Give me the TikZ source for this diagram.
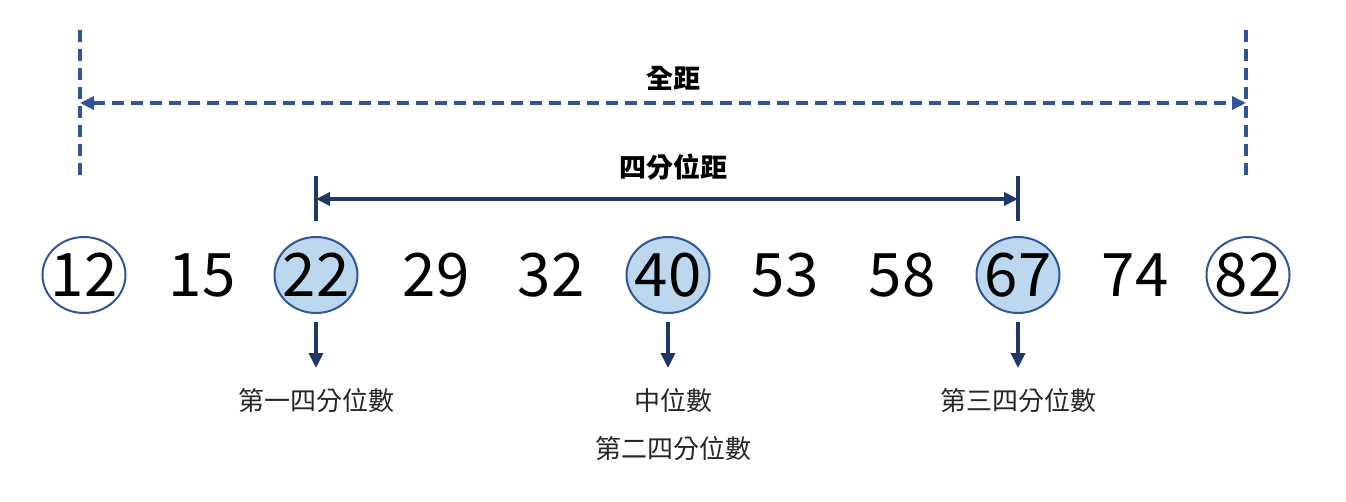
\documentclass[tikz,border=0pt]{standalone}
\usepackage{fontspec}
\setmainfont{Noto Sans CJK TC}
\usetikzlibrary{shapes.geometric,arrows.meta}
\definecolor{dashblue}{HTML}{2F5597}
\definecolor{navy}{HTML}{203864}
\definecolor{lightfill}{HTML}{BDD7EE}
\tikzset{
  num/.style={font=\fontsize{60}{60}\selectfont, inner sep=0pt, text=black},
  ring/.style={num, ellipse, draw=dashblue, line width=2pt, inner xsep=-4.5pt, inner ysep=0pt, minimum width=83pt, minimum height=76pt},
  hl/.style={ring, fill=lightfill},
  dline/.style={draw=dashblue, line width=4pt, dash pattern=on 12pt off 7pt},
  sline/.style={draw=navy, line width=3.5pt},
  lbl/.style={font=\fontsize{26}{26}\selectfont, inner sep=0pt, text=black!85},
  blbl/.style={font=\fontsize{27}{27}\selectfont\bfseries, inner sep=0pt, text=black}
}
\begin{document}
\begin{tikzpicture}[x=1pt,y=-1pt]
\useasboundingbox (0,0) rectangle (1346,501);
% numbers
\node[ring] (n1) at (84,275) {12};
\node[num]  (n2) at (202,275) {15};
\node[hl]   (n3) at (316,275) {22};
\node[num]  (n4) at (436,275) {29};
\node[num]  (n5) at (551,275) {32};
\node[hl]   (n6) at (668,275) {40};
\node[num]  (n7) at (785,275) {53};
\node[num]  (n8) at (902,275) {58};
\node[hl]   (n9) at (1018,275) {67};
\node[num]  (n10) at (1135,275) {74};
\node[ring] (n11) at (1248,275) {82};
% full range
\coordinate (lt) at (80,30);
\coordinate (lb) at (80,176);
\coordinate (rt) at (1246,30);
\coordinate (rb) at (1246,176);
\coordinate (lm) at (80,103);
\coordinate (rm) at (1246,103);
\draw[dline] (lt) -- (lb);
\draw[dline] (rt) -- (rb);
\draw[dline, {Triangle[length=14pt,width=13pt]}-{Triangle[length=14pt,width=13pt]}] (lm) -- (rm);
\node[blbl] (full) at (673,78) {全距};
% IQR
\coordinate (qlt) at (316,176);
\coordinate (qlb) at (316,221);
\coordinate (qrt) at (1018,176);
\coordinate (qrb) at (1018,221);
\coordinate (qlm) at (316,199);
\coordinate (qrm) at (1018,199);
\draw[sline] (qlt) -- (qlb);
\draw[sline] (qrt) -- (qrb);
\draw[sline, {Triangle[length=14pt,width=13pt]}-{Triangle[length=14pt,width=13pt]}] (qlm) -- (qrm);
\node[blbl] (iqr) at (673,167) {四分位距};
% down arrows
\coordinate (a1) at (316,322);
\coordinate (b1) at (316,368);
\coordinate (a2) at (668,322);
\coordinate (b2) at (668,368);
\coordinate (a3) at (1018,322);
\coordinate (b3) at (1018,368);
\draw[sline, -{Triangle[length=15pt,width=14pt]}] (a1) -- (b1);
\draw[sline, -{Triangle[length=15pt,width=14pt]}] (a2) -- (b2);
\draw[sline, -{Triangle[length=15pt,width=14pt]}] (a3) -- (b3);
\node[lbl] (q1) at (316,401) {第一四分位數};
\node[lbl] (q2) at (673,401) {中位數};
\node[lbl] (q2b) at (673,449) {第二四分位數};
\node[lbl] (q3) at (1018,401) {第三四分位數};
\end{tikzpicture}
\end{document}
